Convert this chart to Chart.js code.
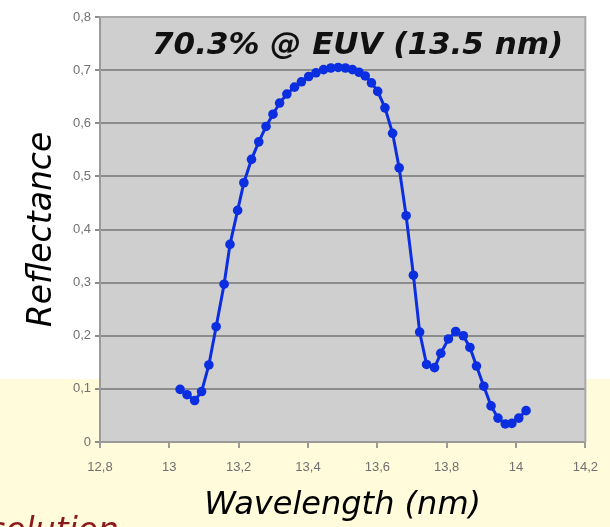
<!DOCTYPE html>
<html>
<head>
<meta charset="utf-8">
<script src="https://cdn.jsdelivr.net/npm/chart.js@4.4.1/dist/chart.umd.min.js"></script>
<style>
  html, body { margin:0; padding:0; }
  body {
    width:610px; height:527px; overflow:hidden; position:relative;
    background: linear-gradient(to bottom, #ffffff 0px, #ffffff 379px, #fffbdb 379px, #fffbdb 527px);
  }
  #wrap { position:absolute; left:0; top:0; width:610px; height:527px; }
  #peak {
    position:absolute; left:152px; top:24px; white-space:nowrap;
    font-family:"DejaVu Sans", sans-serif; font-weight:bold; font-style:italic;
    font-size:31px; color:#111; line-height:38px;
  }
  #side {
    position:absolute; left:-55px; top:511px; white-space:nowrap;
    font-family:"DejaVu Sans", sans-serif; font-style:italic;
    font-size:33px; color:#8b1a1a; line-height:38px;
  }
</style>
</head>
<body>
<div id="wrap"><canvas id="c" width="610" height="527"></canvas></div>
<div id="peak">70.3% @ EUV (13.5 nm)</div>
<div id="side">Resolution</div>
<script>
// ---- data ----
const wavelength = [13.031, 13.051, 13.073, 13.093, 13.114, 13.135, 13.158, 13.175,
  13.197, 13.215, 13.237, 13.258, 13.279, 13.299, 13.318, 13.339,
  13.361, 13.381, 13.402, 13.423, 13.445,
  13.466, 13.487, 13.508, 13.528, 13.547, 13.565, 13.583,
  13.601, 13.622, 13.644, 13.663, 13.683, 13.704,
  13.722, 13.742, 13.765, 13.783, 13.805, 13.826, 13.848,
  13.867, 13.886, 13.907, 13.928, 13.948, 13.969,
  13.988, 14.008, 14.029];
const reflectance = [0.099, 0.089, 0.078, 0.095, 0.145, 0.217, 0.297, 0.372,
  0.436, 0.488, 0.532, 0.565, 0.594, 0.617, 0.638, 0.655,
  0.668, 0.678, 0.688, 0.695, 0.701,
  0.704, 0.705, 0.704, 0.701, 0.696, 0.689, 0.676,
  0.660, 0.629, 0.581, 0.516, 0.426, 0.314,
  0.207, 0.146, 0.140, 0.167, 0.194, 0.208, 0.200,
  0.178, 0.143, 0.105, 0.068, 0.045, 0.034,
  0.035, 0.045, 0.059];
const xTickValues = [12.8, 13, 13.2, 13.4, 13.6, 13.8, 14, 14.2];
const yTickValues = [0, 0.1, 0.2, 0.3, 0.4, 0.5, 0.6, 0.7, 0.8];
const xTitle = "Wavelength (nm)";
const yTitle = "Reflectance";

const points = wavelength.map((w, i) => ({ x: w, y: reflectance[i] }));
const fmt = v => String(Number(v.toFixed(1))).replace('.', ',');

const plotBg = {
  id: 'plotBg',
  beforeDraw(chart) {
    const { ctx, chartArea: a } = chart;
    ctx.save();
    ctx.fillStyle = '#cfcfcf';
    ctx.fillRect(a.left, a.top, a.right - a.left, a.bottom - a.top);
    ctx.restore();
  },
  beforeDatasetsDraw(chart) {
    const { ctx, chartArea: a } = chart;
    ctx.save();
    ctx.strokeStyle = '#a9a9a9';
    ctx.lineWidth = 2;
    ctx.beginPath();
    ctx.moveTo(a.left, a.top);
    ctx.lineTo(a.right, a.top);
    ctx.lineTo(a.right, a.bottom);
    ctx.stroke();
    ctx.restore();
  }
};

const tickFont = { family: '"Liberation Sans", Arial, sans-serif', size: 13 };

new Chart(document.getElementById('c'), {
  type: 'scatter',
  data: {
    datasets: [{
      data: points,
      showLine: true,
      borderColor: '#0b2ee0',
      backgroundColor: '#0b2ee0',
      borderWidth: 3,
      pointRadius: 4.8,
      pointBorderWidth: 0,
      tension: 0
    }]
  },
  options: {
    responsive: false,
    animation: false,
    events: [],
    layout: { padding: { top: 17, right: 22, bottom: 0, left: 0 } },
    plugins: { legend: { display: false }, tooltip: { enabled: false }, title: { display: false } },
    scales: {
      x: {
        type: 'linear',
        min: 12.8, max: 14.2,
        afterFit: s => { s.height = 85; },
        afterBuildTicks: s => { s.ticks = xTickValues.map(v => ({ value: v })); },
        ticks: { callback: v => fmt(v), color: '#707070', font: tickFont, padding: 12, maxRotation: 0, autoSkip: false },
        grid: { drawOnChartArea: false, drawTicks: true, tickLength: 6, color: '#9a9a9a', lineWidth: 2 },
        border: { display: true, color: '#9a9a9a', width: 2 },
        title: {
          display: true, text: xTitle, color: '#000',
          font: { family: '"DejaVu Sans", sans-serif', style: 'italic', size: 32 },
          padding: { top: 0, bottom: 2 }
        }
      },
      y: {
        type: 'linear',
        min: 0, max: 0.8,
        afterFit: s => { s.width = 100; },
        afterBuildTicks: s => { s.ticks = yTickValues.map(v => ({ value: v })); },
        ticks: { callback: v => fmt(v), color: '#707070', font: tickFont, padding: 4 },
        grid: { drawOnChartArea: true, drawTicks: true, tickLength: 5, color: '#8c8c8c', lineWidth: 2 },
        border: { display: true, color: '#9a9a9a', width: 2 },
        title: {
          display: true, text: yTitle, color: '#000',
          font: { family: '"DejaVu Sans", sans-serif', style: 'italic', size: 33 },
          padding: { top: 23, bottom: 0 }
        }
      }
    }
  },
  plugins: [plotBg]
});
</script>
</body>
</html>
